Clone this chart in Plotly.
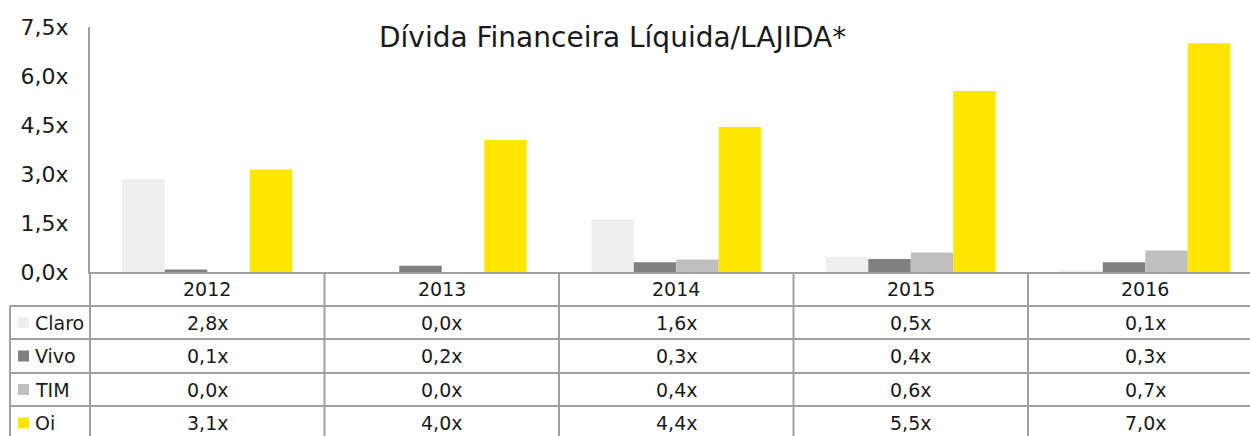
import plotly.graph_objects as go

# ---- data ----
years = ["2012", "2013", "2014", "2015", "2016"]
series_names = ["Claro", "Vivo", "TIM", "Oi"]
claro = [2.84, 0.0, 1.6, 0.46, 0.06]
vivo = [0.08, 0.19, 0.3, 0.4, 0.3]
tim = [0.0, 0.0, 0.38, 0.6, 0.66]
oi = [3.14, 4.04, 4.44, 5.54, 7.0]
series_values = [claro, vivo, tim, oi]
series_colors = ["#efefef", "#808080", "#bfbfbf", "#ffe600"]
y_ticks = [0, 1.5, 3.0, 4.5, 6.0, 7.5]
y_tick_labels = ["0,0x", "1,5x", "3,0x", "4,5x", "6,0x", "7,5x"]
title_text = "Dívida Financeira Líquida/LAJIDA*"

# ---- geometry (pixels) ----
W, H = 1250, 436
L, R, T, B = 90, 0, 27, 164
plot_w = W - L - R
plot_h = H - T - B
col_w = 234.5
FONT = "DejaVu Sans"
LINE = "#a0a0a0"
TXT = "#1a1a1a"


def px(x):
    return (x - L) / plot_w


def py(y):
    return (H - B - y) / plot_h


fig = go.Figure()
for name, vals, col in zip(series_names, series_values, series_colors):
    fig.add_trace(go.Bar(x=years, y=vals, name=name, marker_color=col,
                         marker_line_width=0, showlegend=False))

shapes = []
annotations = []

# table rows: header 272-306, then rows
row_edges = [272, 306, 339, 373, 406, 440]
for ye in row_edges[1:5]:
    shapes.append(dict(type="line", xref="paper", yref="paper",
                       x0=px(10), x1=px(1270), y0=py(ye), y1=py(ye),
                       line=dict(color=LINE, width=2)))
shapes.append(dict(type="line", xref="paper", yref="paper",
                   x0=px(10), x1=px(10), y0=py(306), y1=py(440),
                   line=dict(color=LINE, width=2)))
shapes.append(dict(type="line", xref="paper", yref="paper",
                   x0=0, x1=0, y0=py(272), y1=py(440),
                   line=dict(color=LINE, width=2)))
for k in range(1, len(years) + 1):
    shapes.append(dict(type="line", xref="x", yref="paper",
                       x0=k - 0.5, x1=k - 0.5, y0=py(272), y1=py(440),
                       line=dict(color=LINE, width=2)))

hc = (row_edges[0] + row_edges[1]) / 2
for i, yr in enumerate(years):
    annotations.append(dict(x=i, y=py(hc), xref="x", yref="paper", text=yr,
                            showarrow=False, xanchor="center", yanchor="middle",
                            font=dict(family=FONT, size=19, color=TXT)))

for r, (name, vals, col) in enumerate(zip(series_names, series_values, series_colors)):
    yc = (row_edges[r + 1] + row_edges[r + 2]) / 2
    shapes.append(dict(type="rect", xref="paper", yref="paper",
                       x0=px(18), x1=px(29), y0=py(yc - 5.5), y1=py(yc + 5.5),
                       fillcolor=col, line=dict(width=0)))
    annotations.append(dict(x=px(33), y=py(yc), xref="paper", yref="paper",
                            text=name, showarrow=False, xanchor="left",
                            yanchor="middle",
                            font=dict(family=FONT, size=19, color=TXT)))
    for i, v in enumerate(vals):
        txt = f"{v:.1f}".replace(".", ",") + "x"
        annotations.append(dict(x=i, y=py(yc), xref="x", yref="paper", text=txt,
                                showarrow=False, xanchor="center", yanchor="middle",
                                font=dict(family=FONT, size=19, color=TXT)))

annotations.append(dict(x=px(612), y=py(37), xref="paper", yref="paper",
                        text=title_text, showarrow=False, xanchor="center",
                        yanchor="middle", font=dict(family=FONT, size=28, color=TXT)))

fig.update_layout(
    width=W, height=H,
    margin=dict(l=L, r=R, t=T, b=B, pad=0),
    paper_bgcolor="white", plot_bgcolor="white",
    barmode="group", bargap=0.275, bargroupgap=0,
    shapes=shapes, annotations=annotations,
    font=dict(family=FONT, color=TXT),
    xaxis=dict(range=[-0.5, -0.5 + plot_w / col_w], showticklabels=False,
               showgrid=False, zeroline=False, showline=True,
               linecolor=LINE, linewidth=2, ticks=""),
    yaxis=dict(range=[0, 7.5], tickvals=y_ticks, ticktext=y_tick_labels,
               showgrid=False, zeroline=False, showline=True, linecolor=LINE,
               linewidth=2, ticks="", ticklabelstandoff=15,
               tickfont=dict(family=FONT, size=22, color=TXT)),
)

fig.write_html("out.html", config={"displayModeBar": False},
               post_script="document.body.style.margin='0';")
